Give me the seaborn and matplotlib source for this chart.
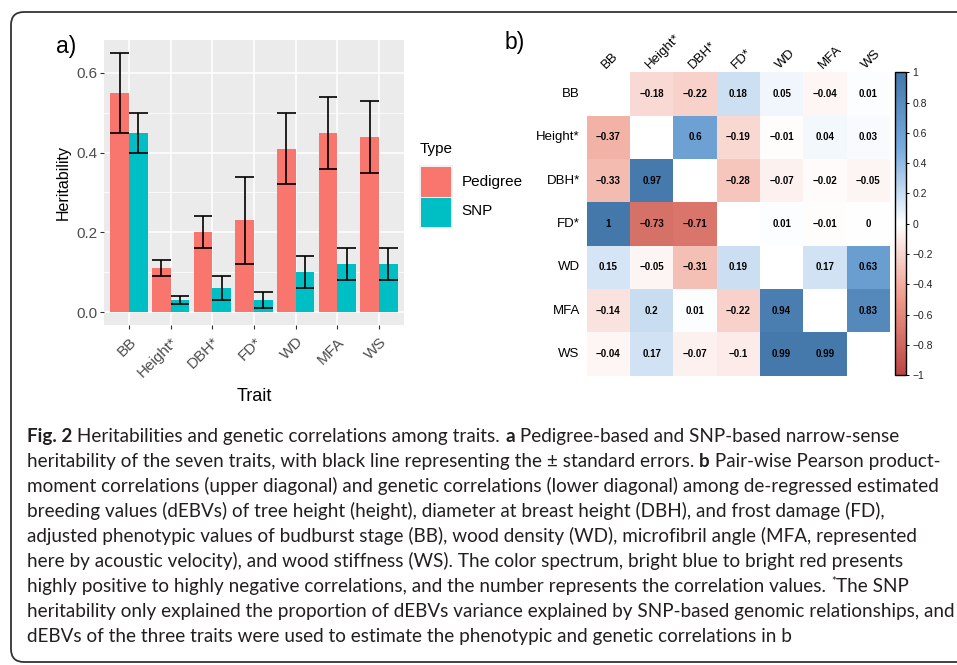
import numpy as np
import pandas as pd
import matplotlib
matplotlib.use("Agg")
import matplotlib.pyplot as plt
import seaborn as sns
from matplotlib.colors import LinearSegmentedColormap
from matplotlib.patches import FancyBboxPatch, Rectangle

# ---------------- data ----------------
traits = ["BB", "Height*", "DBH*", "FD*", "WD", "MFA", "WS"]
types = ["Pedigree", "SNP"]
h2_pedigree = [0.55, 0.11, 0.20, 0.23, 0.41, 0.45, 0.44]
se_pedigree = [0.10, 0.02, 0.04, 0.11, 0.09, 0.09, 0.09]
h2_snp = [0.45, 0.03, 0.06, 0.03, 0.10, 0.12, 0.12]
se_snp = [0.05, 0.01, 0.03, 0.02, 0.04, 0.04, 0.04]
y_ticks = [0.0, 0.2, 0.4, 0.6]
y_tick_labels = ["0.0", "0.2", "0.4", "0.6"]

corr_labels = ["BB", "Height*", "DBH*", "FD*", "WD", "MFA", "WS"]
nan = np.nan
corr_BB     = [nan, -0.18, -0.22, 0.18, 0.05, -0.04, 0.01]
corr_Height = [-0.37, nan, 0.6, -0.19, -0.01, 0.04, 0.03]
corr_DBH    = [-0.33, 0.97, nan, -0.28, -0.07, -0.02, -0.05]
corr_FD     = [1, -0.73, -0.71, nan, 0.01, -0.01, 0]
corr_WD     = [0.15, -0.05, -0.31, 0.19, nan, 0.17, 0.63]
corr_MFA    = [-0.14, 0.2, 0.01, -0.22, 0.94, nan, 0.83]
corr_WS     = [-0.04, 0.17, -0.07, -0.1, 0.99, 0.99, nan]
cbar_ticks = [1, 0.8, 0.6, 0.4, 0.2, 0, -0.2, -0.4, -0.6, -0.8, -1]
corr_palette = ["#BB4444", "#EE9988", "#FFFFFF", "#77AADD", "#4477AA"]

caption_lines = [
    [("Fig. 2", "bold"), (" Heritabilities and genetic correlations among traits. ", "normal"),
     ("a", "bold"), (" Pedigree-based and SNP-based narrow-sense", "normal")],
    [("heritability of the seven traits, with black line representing the \u00b1 standard errors. ", "normal"),
     ("b", "bold"), (" Pair-wise Pearson product-", "normal")],
    [("moment correlations (upper diagonal) and genetic correlations (lower diagonal) among de-regressed estimated", "normal")],
    [("breeding values (dEBVs) of tree height (height), diameter at breast height (DBH), and frost damage (FD),", "normal")],
    [("adjusted phenotypic values of budburst stage (BB), wood density (WD), microfibril angle (MFA, represented", "normal")],
    [("here by acoustic velocity), and wood stiffness (WS). The color spectrum, bright blue to bright red presents", "normal")],
    [("highly positive to highly negative correlations, and the number represents the correlation values. ", "normal"),
     ("*", "sup"), ("The SNP", "normal")],
    [("heritability only explained the proportion of dEBVs variance explained by SNP-based genomic relationships, and", "normal")],
    [("dEBVs of the three traits were used to estimate the phenotypic and genetic correlations in b", "normal")],
]

# ---------------- figure ----------------
W, H = 957, 665
sns.set_theme(style="white")
plt.rcParams["font.family"] = ["Liberation Sans", "DejaVu Sans"]
plt.rcParams["axes.unicode_minus"] = True

fig = plt.figure(figsize=(W / 100, H / 100), dpi=100)
fig.patch.set_facecolor("white")


def axrect(x0, y0, x1, y1):
    return [x0 / W, 1 - y1 / H, (x1 - x0) / W, (y1 - y0) / H]


# overlay in pixel coordinates
bg = fig.add_axes([0, 0, 1, 1], zorder=-5)
bg.set_xlim(0, W)
bg.set_ylim(H, 0)
bg.axis("off")
bg.add_patch(FancyBboxPatch((11, 12), 1000, 650, boxstyle="round,pad=0,rounding_size=13",
                            fill=False, ec="#333333", lw=1.3, clip_on=False))

# ---------------- panel a: bars ----------------
ax1 = fig.add_axes(axrect(104, 40, 404, 325))
df = pd.DataFrame({
    "Trait": traits * 2,
    "Type": [types[0]] * len(traits) + [types[1]] * len(traits),
    "h2": h2_pedigree + h2_snp,
})
sns.barplot(data=df, x="Trait", y="h2", hue="Type", order=traits, hue_order=types,
            palette=["#F8766D", "#00BFC4"], width=0.9, errorbar=None, saturation=1,
            linewidth=0, legend=False, ax=ax1, zorder=2)

for cont, ses in zip(ax1.containers, [se_pedigree, se_snp]):
    for bar, s in zip(cont, ses):
        xc = bar.get_x() + bar.get_width() / 2
        w = bar.get_width()
        h = bar.get_height()
        ax1.vlines(xc, h - s, h + s, color="black", lw=1.2, zorder=4)
        ax1.hlines([h - s, h + s], xc - w / 2, xc + w / 2, color="black", lw=1.2, zorder=4)

ax1.set_facecolor("#EBEBEB")
for sp in ax1.spines.values():
    sp.set_visible(False)
ax1.set_xlim(-0.6, 6.6)
ax1.set_ylim(-0.0325, 0.6825)
ax1.set_yticks(y_ticks)
ax1.set_yticklabels(y_tick_labels)
ax1.set_yticks([0.1, 0.3, 0.5], minor=True)
ax1.grid(True, which="major", color="white", lw=1.1, zorder=0)
ax1.grid(True, which="minor", axis="y", color="white", lw=0.55, zorder=0)
ax1.set_axisbelow(True)
ax1.tick_params(axis="both", which="major", length=3, width=0.8, color="#333333",
                labelcolor="#4D4D4D", labelsize=11, pad=2, bottom=True, left=True)
ax1.tick_params(axis="x", which="major", pad=4)
ax1.tick_params(axis="y", which="minor", length=0)
ax1.set_xticks(range(len(traits)))
ax1.set_xticklabels(traits, rotation=45, ha="right", va="top", rotation_mode="anchor")
ax1.set_xlabel("Trait", fontsize=13, color="black", labelpad=6)
ax1.set_ylabel("Heritability", fontsize=11.5, color="black", labelpad=4)

bg.text(66, 47, "a)", fontsize=16.5, ha="center", va="center", color="black")

# legend
bg.text(420, 149, "Type", fontsize=11, ha="left", va="center", color="black")
bg.add_patch(Rectangle((419, 165), 34, 63, fc="#F2F2F2", ec="none"))
bg.add_patch(Rectangle((421, 167), 30, 29.5, fc="#F8766D", ec="none"))
bg.add_patch(Rectangle((421, 197.5), 30, 29.5, fc="#00BFC4", ec="none"))
bg.text(461.5, 182, "Pedigree", fontsize=11, ha="left", va="center", color="black")
bg.text(461.5, 211, "SNP", fontsize=11, ha="left", va="center", color="black")

# ---------------- panel b: heatmap ----------------
ax2 = fig.add_axes(axrect(586.7, 72.3, 890, 375.7))
cax = fig.add_axes(axrect(895, 72.3, 906, 375.3))
mat = pd.DataFrame([corr_BB, corr_Height, corr_DBH, corr_FD, corr_WD, corr_MFA, corr_WS],
                   index=corr_labels, columns=corr_labels)
annot = mat.map(lambda v: "" if pd.isna(v) else f"{v:g}".replace("-", "\u2212"))
cmap = LinearSegmentedColormap.from_list("corr", corr_palette)
sns.heatmap(mat, cmap=cmap, vmin=-1, vmax=1, annot=annot.values, fmt="",
            annot_kws=dict(fontsize=7, fontweight="bold", color="black"),
            cbar_ax=cax, ax=ax2, xticklabels=corr_labels, yticklabels=corr_labels)
ax2.xaxis.tick_top()
ax2.tick_params(axis="both", length=0, labelsize=9.5, labelcolor="black")
ax2.tick_params(axis="x", pad=1)
ax2.tick_params(axis="y", pad=5)
ax2.set_xticklabels(corr_labels, rotation=45, ha="left", va="bottom", rotation_mode="anchor")
ax2.set_yticklabels(corr_labels, rotation=0, ha="right", va="center")
ax2.set_xlabel("")
ax2.set_ylabel("")

cbar = ax2.collections[0].colorbar
cbar.set_ticks(cbar_ticks)
cbar.set_ticklabels([f"{t:g}".replace("-", "\u2212") for t in cbar_ticks])
cbar.outline.set_edgecolor("black")
cbar.outline.set_linewidth(1.0)
cax.tick_params(labelsize=7.5, length=2.5, width=0.7, color="black", pad=2, labelcolor="#222222")

bg.text(515, 43, "b)", fontsize=16.5, ha="center", va="center", color="black")

# ---------------- caption ----------------
cap_family = ["Lato", "DejaVu Sans"]
renderer = fig.canvas.get_renderer()


def seg_width(s, size, weight):
    t1 = bg.text(0, 0, s + "|", fontsize=size, fontweight=weight, family=cap_family)
    t2 = bg.text(0, 0, "|", fontsize=size, fontweight=weight, family=cap_family)
    w = t1.get_window_extent(renderer).width - t2.get_window_extent(renderer).width
    t1.remove()
    t2.remove()
    return w


def line_width(segs, size):
    tot = 0
    for s, kind in segs:
        if kind == "sup":
            tot += seg_width(s, size * 0.6, "normal")
        else:
            tot += seg_width(s, size, kind)
    return tot


ref = 10.0
widest = max(line_width(l, ref) for l in caption_lines)
cap_size = ref * 927 / widest

for i, segs in enumerate(caption_lines):
    x = 27
    yb = 442 + 25 * i
    for s, kind in segs:
        if kind == "sup":
            bg.text(x, yb - 7, s, fontsize=cap_size * 0.6, family=cap_family,
                    ha="left", va="baseline", color="#231F20")
            x += seg_width(s, cap_size * 0.6, "normal")
        else:
            bg.text(x, yb, s, fontsize=cap_size, fontweight=kind, family=cap_family,
                    ha="left", va="baseline", color="#231F20")
            x += seg_width(s, cap_size, kind)

fig.savefig("out.png", dpi=100)
